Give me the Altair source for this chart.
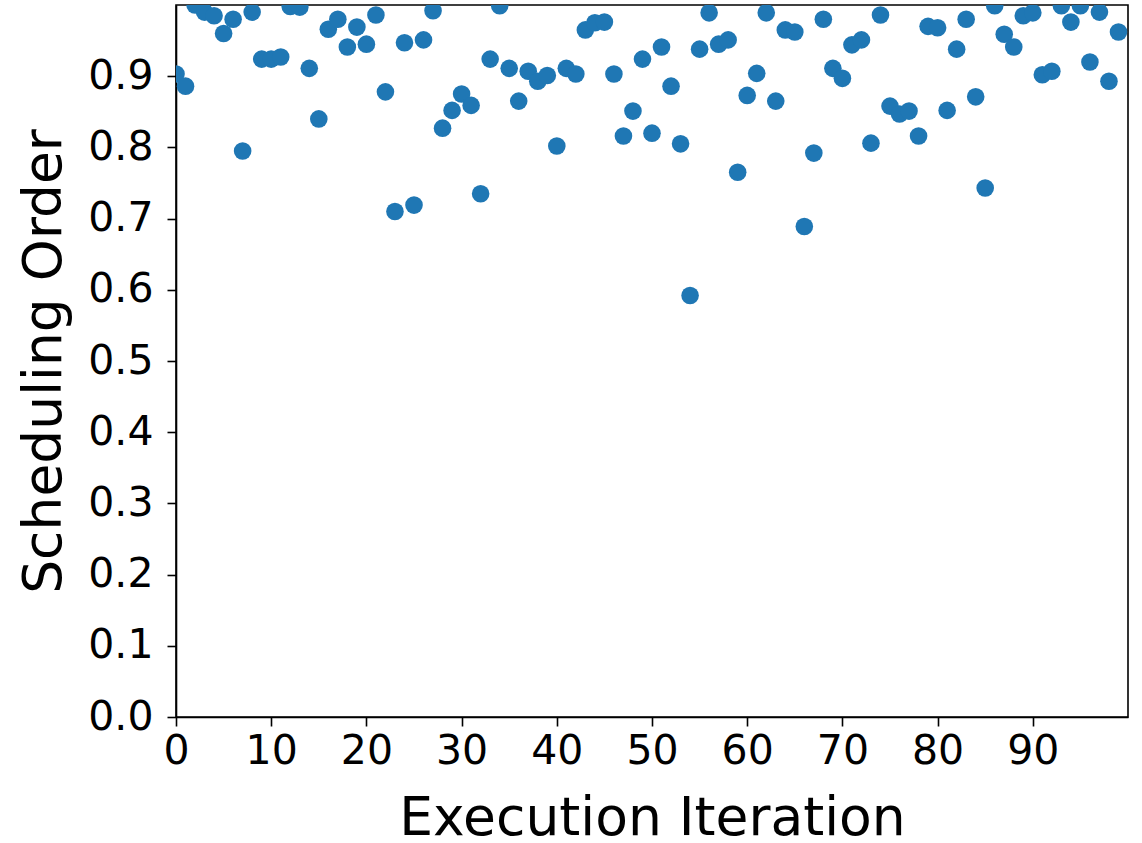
import altair as alt
import pandas as pd

iterations = list(range(100))
order = [
    0.903, 0.886, 1.000, 0.990, 0.985, 0.960, 0.980, 0.795, 0.990, 0.924,
    0.924, 0.927, 0.998, 0.997, 0.911, 0.840, 0.966, 0.980, 0.941, 0.969,
    0.945, 0.986, 0.878, 0.710, 0.947, 0.719, 0.951, 0.992, 0.827, 0.852,
    0.875, 0.859, 0.735, 0.924, 0.999, 0.911, 0.865, 0.907, 0.893, 0.901,
    0.802, 0.911, 0.903, 0.965, 0.975, 0.976, 0.903, 0.816, 0.851, 0.924,
    0.820, 0.941, 0.886, 0.805, 0.592, 0.938, 0.989, 0.945, 0.951, 0.765,
    0.873, 0.904, 0.989, 0.865, 0.965, 0.962, 0.689, 0.792, 0.980, 0.911,
    0.897, 0.944, 0.951, 0.806, 0.986, 0.858, 0.847, 0.851, 0.816, 0.970,
    0.968, 0.852, 0.938, 0.980, 0.871, 0.743, 0.999, 0.959, 0.941, 0.985,
    0.989, 0.902, 0.907, 0.999, 0.976, 0.999, 0.920, 0.990, 0.893, 0.962,
]
x_ticks = [0, 10, 20, 30, 40, 50, 60, 70, 80, 90]
y_ticks = [0.0, 0.1, 0.2, 0.3, 0.4, 0.5, 0.6, 0.7, 0.8, 0.9]

df = pd.DataFrame({"Execution Iteration": iterations, "Scheduling Order": order})

chart = alt.Chart(df).mark_circle(
    size=310, color="#1f77b4", opacity=1, clip=True
).encode(
    x=alt.X(
        "Execution Iteration:Q",
        scale=alt.Scale(domain=[0, 100], nice=False, zero=False),
        axis=alt.Axis(
            values=x_ticks, format="d", labelPadding=5, labelFlush=False,
            title="Execution Iteration", titleY=117, titleBaseline="alphabetic",
        ),
    ),
    y=alt.Y(
        "Scheduling Order:Q",
        scale=alt.Scale(domain=[0, 1.0], nice=False),
        axis=alt.Axis(
            values=y_ticks, format=".1f", labelPadding=14, labelFlush=False,
            title="Scheduling Order", titleX=-116, titleY=356,
            titleBaseline="alphabetic", titleAngle=-90,
        ),
    ),
).properties(
    width=952,
    height=712,
    autosize=alt.AutoSizeParams(type="none"),
    padding={"left": 176, "top": 5, "right": 14, "bottom": 126},
).configure_view(
    stroke="black", strokeWidth=1.6
).configure_axis(
    grid=False,
    domainColor="black", domainWidth=1.6,
    tickColor="black", tickWidth=1.6, tickSize=9,
    labelFont="DejaVu Sans", labelFontSize=41, labelColor="black",
    titleFont="DejaVu Sans", titleFontSize=53.5, titleFontWeight="normal",
    titleColor="black",
)

chart.save("out.html", embed_options={"renderer": "svg", "actions": False})
